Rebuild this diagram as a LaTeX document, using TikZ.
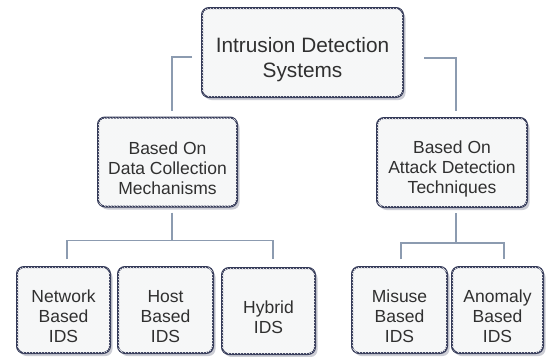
\documentclass[tikz,border=0pt]{standalone}
\usepackage{fontspec}
\setmainfont{Liberation Sans}
\usetikzlibrary{shadows,patterns}
\definecolor{bord}{HTML}{343A58}
\definecolor{boxfill}{HTML}{F6F7F9}
\definecolor{conn}{HTML}{8C9BB0}
\definecolor{txt}{HTML}{303030}
\newcommand{\topgapA}{\rule{0pt}{29pt}}
\newcommand{\topgapB}{\rule{0pt}{25pt}}
\begin{document}
\begin{tikzpicture}[x=1pt,y=-1pt,
  box/.style={draw=bord, line width=2pt, rounded corners=7pt, fill=boxfill,
    align=center, text=txt, inner sep=0pt,
    drop shadow={shadow xshift=2.5pt, shadow yshift=-3pt, fill=bord, opacity=0.25},
    postaction={pattern=north west lines, pattern color=black!3}},
  rootbox/.style={box, font=\fontsize{20.8}{25}\selectfont},
  midbox/.style={box, font=\fontsize{17.5}{20}\selectfont, minimum height=89pt},
  leafbox/.style={box, font=\fontsize{17.5}{20}\selectfont, minimum height=86pt},
  conn/.style={draw=conn, line width=1.2pt}]
\fill[white] (0,0) rectangle (546,356);
\useasboundingbox (0,0) rectangle (546,356);

\node[rootbox, minimum width=201pt, minimum height=89pt] (root) at (302.5,52.5)
  {\topgapA Intrusion Detection\\Systems};

\node[midbox, minimum width=139pt] (midL) at (167.5,162)
  {\topgapB Based On\\Data Collection\\Mechanisms};
\node[midbox, minimum width=150pt] (midR) at (452,162.5)
  {\topgapB Based On\\Attack Detection\\Techniques};

\node[leafbox, minimum width=93pt] (net) at (63.5,310) {\topgapB Network\\Based\\IDS};
\node[leafbox, minimum width=95pt] (host) at (165.5,310) {\topgapB Host\\Based\\IDS};
\node[leafbox, minimum width=93pt] (hyb) at (268.5,311) {\topgapB Hybrid\\IDS};
\node[leafbox, minimum width=95pt] (mis) at (399.5,310) {\topgapB Misuse\\Based\\IDS};
\node[leafbox, minimum width=91pt] (anom) at (497.5,310) {\topgapB Anomaly\\Based\\IDS};

\draw[conn] ([shift={(-9,4.5)}]root.west) -| ([shift={(4.5,-6)}]midL.north);
\draw[conn] ([shift={(20,5.5)}]root.east) -| ([shift={(4,-6)}]midR.north);

\draw[conn] ([shift={(4.5,5)}]midL.south) -- ++(0,28) coordinate (jL);
\draw[conn] ([shift={(3.5,-7)}]net.north) |- (jL) -| ([shift={(4.5,-8)}]hyb.north);

\draw[conn] ([shift={(4,5)}]midR.south) -- ++(0,30) coordinate (jR);
\draw[conn] ([shift={(1.5,-7)}]mis.north) |- (jR) -| ([shift={(6.5,-7)}]anom.north);
\end{tikzpicture}
\end{document}
